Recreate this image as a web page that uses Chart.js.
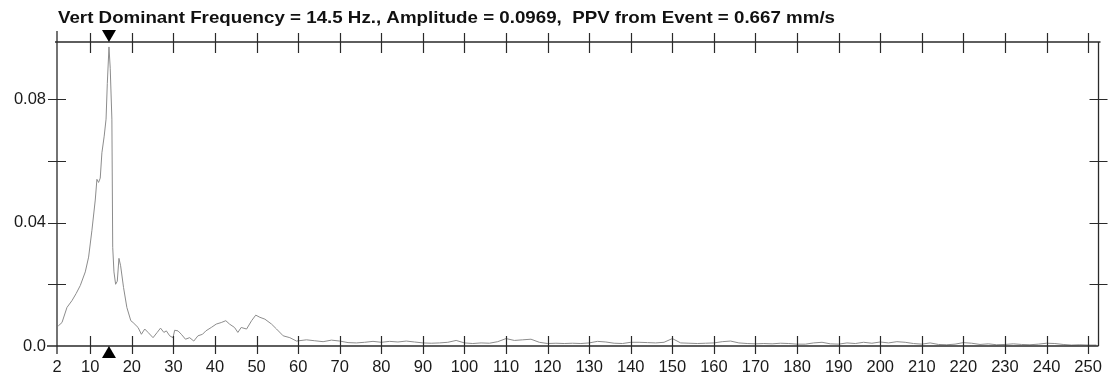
<!DOCTYPE html>
<html>
<head>
<meta charset="utf-8">
<script src="https://cdn.jsdelivr.net/npm/chart.js@4/dist/chart.umd.min.js"></script>
<style>
  html, body { margin: 0; padding: 0; background: #fff; }
</style>
</head>
<body>
<canvas id="spectrum" width="1114" height="383"></canvas>
<script>
const titleText = 'Vert Dominant Frequency = 14.5 Hz., Amplitude = 0.0969,  PPV from Event = 0.667 mm/s';
const dominantFreq = 14.5;

const xTicks = [2, 10, 20, 30, 40, 50, 60, 70, 80, 90, 100, 110, 120, 130, 140, 150, 160, 170, 180, 190, 200, 210, 220, 230, 240, 250];
const yTicks = [0, 0.02, 0.04, 0.06, 0.08];
const yTickLabels = ['0.0', '', '0.04', '', '0.08'];

// frequency (Hz)
const freqs = [
  2.3, 3.2, 4.4, 5.6, 6.6, 7.6, 8.8, 9.6, 10.4, 11.2, 11.6, 12.0, 12.4, 12.8, 13.35, 13.8, 14.1, 14.5, 14.8, 15.2,
  15.4, 15.7, 16.1, 16.5, 16.9, 17.3, 18.0, 18.8, 19.75,
  20.3, 21.5, 22.3, 23.1, 23.9, 25.1, 26.1, 26.9, 27.7, 28.3, 29.1, 29.9, 30.3, 31.1, 31.9, 32.9, 33.9, 34.9, 35.9, 37.0,
  37.8, 39.1, 40.3, 41.5, 42.6, 43.5, 44.7, 45.5, 46.3, 47.6, 48.8, 49.8, 50.8, 52.0, 53.6, 54.8, 56.4, 58.0, 59.6,
  62, 64, 66, 68, 70, 72, 74, 76, 78, 80, 82, 84, 86, 88, 90, 92, 94, 96, 98, 100,
  102, 104, 106, 108, 110, 112, 114, 116, 118, 120, 122, 124, 126, 128, 130, 132, 134, 136, 138, 140,
  142, 144, 146, 148, 150, 152, 154, 156, 158, 160, 162, 164, 166, 168, 170, 172, 174, 176, 178, 180,
  182, 184, 186, 188, 190, 192, 194, 196, 198, 200, 202, 204, 206, 208, 210, 212, 214, 216, 218, 220,
  222, 224, 226, 228, 230, 232, 234, 236, 238, 240, 242, 244, 246, 248, 250, 252
];

// amplitude (mm/s)
const amps = [
  0.0065, 0.0076, 0.0125, 0.0147, 0.0170, 0.0196, 0.0240, 0.0288, 0.0375, 0.0473, 0.0540, 0.0530, 0.0544, 0.0626, 0.0680, 0.0735, 0.0850, 0.0969, 0.0900, 0.0735,
  0.0320, 0.0240, 0.0200, 0.0210, 0.0284, 0.0260, 0.0190, 0.0125, 0.0082,
  0.0076, 0.0060, 0.0038, 0.0055, 0.0044, 0.0027, 0.0044, 0.0058, 0.0044, 0.0049, 0.0033, 0.0027, 0.0051, 0.0049, 0.0038, 0.0022, 0.0027, 0.0016, 0.0033, 0.0038,
  0.0049, 0.0060, 0.0071, 0.0076, 0.0082, 0.0071, 0.0060, 0.0044, 0.0060, 0.0055, 0.0082, 0.0100, 0.0093, 0.0087, 0.0071, 0.0055, 0.0033, 0.0027, 0.0016,
  0.0020, 0.0017, 0.0014, 0.0019, 0.0016, 0.0011, 0.0010, 0.0012, 0.0015, 0.0012, 0.0015, 0.0013, 0.0016, 0.0013, 0.0010, 0.0009, 0.0010, 0.0012, 0.0018, 0.0010,
  0.0008, 0.0010, 0.0009, 0.0014, 0.0024, 0.0018, 0.0020, 0.0022, 0.0012, 0.0008, 0.0009, 0.0008, 0.0009, 0.0008, 0.0010, 0.0015, 0.0013, 0.0009, 0.0008, 0.0012,
  0.0012, 0.0011, 0.0010, 0.0012, 0.0024, 0.0010, 0.0009, 0.0008, 0.0009, 0.0010, 0.0014, 0.0016, 0.0010, 0.0008, 0.0007, 0.0008, 0.0007, 0.0009, 0.0008, 0.0006,
  0.0006, 0.0010, 0.0012, 0.0007, 0.0006, 0.0010, 0.0008, 0.0012, 0.0009, 0.0013, 0.0010, 0.0014, 0.0012, 0.0008, 0.0006, 0.0010, 0.0005, 0.0004, 0.0006, 0.0011,
  0.0009, 0.0005, 0.0007, 0.0004, 0.0005, 0.0007, 0.0005, 0.0004, 0.0006, 0.0009, 0.0008, 0.0005, 0.0003, 0.0004, 0.0003, 0.0003
];

const ink = '#2a2a2a';

// frame, crossing tick marks, markers and title, like the printed report
const framePlugin = {
  id: 'frame',
  afterDraw(chart) {
    const ctx = chart.ctx;
    const { left, right, top, bottom } = chart.chartArea;
    const xs = chart.scales.x;
    const ys = chart.scales.y;

    ctx.save();
    ctx.strokeStyle = ink;
    ctx.lineWidth = 1.3;
    ctx.beginPath();
    ctx.moveTo(left - 10, bottom); ctx.lineTo(right, bottom);
    ctx.moveTo(left - 2, top); ctx.lineTo(right + 2, top);
    ctx.moveTo(left, top - 11); ctx.lineTo(left, bottom + 8);
    ctx.moveTo(right, top); ctx.lineTo(right, bottom);
    ctx.stroke();

    ctx.lineWidth = 1.2;
    ctx.beginPath();
    xTicks.forEach(v => {
      if (v === xTicks[0]) return;
      const px = Math.round(xs.getPixelForValue(v)) + 0.5;
      ctx.moveTo(px, bottom - 10); ctx.lineTo(px, bottom + 8);
      ctx.moveTo(px, top - 9); ctx.lineTo(px, top + 11);
    });
    yTicks.forEach(v => {
      const py = Math.round(ys.getPixelForValue(v)) + 0.5;
      if (v > 0) {
        ctx.moveTo(left - 9, py); ctx.lineTo(left + 9, py);
        ctx.moveTo(right - 9, py); ctx.lineTo(right + 9, py);
      }
    });
    ctx.stroke();

    // dominant frequency markers
    const fx = xs.getPixelForValue(dominantFreq);
    ctx.fillStyle = '#000';
    ctx.beginPath();
    ctx.moveTo(fx - 7, top - 12); ctx.lineTo(fx + 7, top - 12); ctx.lineTo(fx, top);
    ctx.closePath();
    ctx.fill();
    ctx.beginPath();
    ctx.moveTo(fx - 7, bottom + 12); ctx.lineTo(fx + 7, bottom + 12); ctx.lineTo(fx, bottom);
    ctx.closePath();
    ctx.fill();

    // title
    ctx.font = 'bold 17px "Liberation Sans", Arial, sans-serif';
    ctx.textBaseline = 'alphabetic';
    ctx.textAlign = 'left';
    ctx.fillStyle = '#111';
    const w = ctx.measureText(titleText).width;
    ctx.translate(left + 1, 22.5);
    ctx.scale(777 / w, 1);
    ctx.fillText(titleText, 0, 0);
    ctx.restore();
  }
};

const chart = new Chart(document.getElementById('spectrum'), {
  type: 'line',
  data: {
    datasets: [{
      data: freqs.map((f, i) => ({ x: f, y: amps[i] })),
      borderColor: '#8c8c8c',
      borderWidth: 1,
      pointRadius: 0,
      tension: 0,
      fill: false
    }]
  },
  options: {
    responsive: false,
    animation: false,
    layout: { padding: { top: 42, right: 12, left: 0, bottom: 0 } },
    plugins: {
      legend: { display: false },
      title: { display: false },
      tooltip: { enabled: false }
    },
    scales: {
      x: {
        type: 'linear',
        min: 2,
        max: 252.5,
        afterBuildTicks: scale => { scale.ticks = xTicks.map(v => ({ value: v })); },
        afterFit: scale => { scale.height = 37; },
        grid: { display: false, drawTicks: false },
        border: { display: false },
        ticks: {
          autoSkip: false,
          maxRotation: 0,
          padding: 12,
          color: '#1a1a1a',
          font: { family: '"Liberation Sans", Arial, sans-serif', size: 16.5 },
          callback: value => String(value)
        }
      },
      y: {
        min: 0,
        max: 0.0985,
        afterBuildTicks: scale => { scale.ticks = yTicks.map(v => ({ value: v })); },
        afterFit: scale => { scale.width = 57; },
        grid: { display: false, drawTicks: false },
        border: { display: false },
        ticks: {
          padding: 11,
          color: '#1a1a1a',
          font: { family: '"Liberation Sans", Arial, sans-serif', size: 16.5 },
          callback: (value, index) => yTickLabels[index]
        }
      }
    }
  },
  plugins: [framePlugin]
});
</script>
</body>
</html>
